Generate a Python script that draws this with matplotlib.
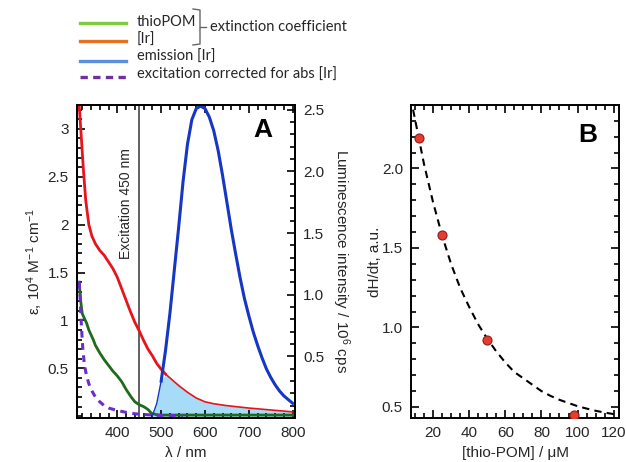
import numpy as np
import matplotlib.pyplot as plt
from matplotlib.lines import Line2D
from matplotlib.ticker import MultipleLocator

plt.rcParams['font.family'] = ['Liberation Sans', 'DejaVu Sans']
plt.rcParams['mathtext.fontset'] = 'custom'
plt.rcParams['mathtext.rm'] = 'Liberation Sans'
plt.rcParams['mathtext.it'] = 'Liberation Sans:italic'

# Panel A: extinction coefficients (left axis, 10^4 M^-1 cm^-1)
ir_wl = [313, 318, 323, 328, 335, 342, 350, 360, 370, 380, 390, 400, 410, 420,
         430, 440, 450, 460, 470, 480, 490, 500, 510, 520, 540, 560, 580, 600,
         620, 650, 700, 750, 800]
ir_eps = [3.25, 2.90, 2.55, 2.25, 2.00, 1.88, 1.80, 1.73, 1.68, 1.61, 1.54, 1.45,
          1.33, 1.21, 1.09, 0.98, 0.89, 0.79, 0.70, 0.63, 0.55, 0.49, 0.44, 0.40,
          0.32, 0.25, 0.19, 0.15, 0.13, 0.11, 0.085, 0.065, 0.045]

pom_wl = [313, 316, 320, 325, 330, 335, 340, 345, 350, 360, 370, 380, 390, 400,
          410, 420, 430, 440, 450, 460, 470, 478, 490, 500, 600, 800]
pom_eps = [1.40, 1.22, 1.07, 1.02, 0.97, 0.90, 0.85, 0.80, 0.74, 0.66, 0.59, 0.53,
           0.47, 0.42, 0.36, 0.28, 0.21, 0.15, 0.12, 0.10, 0.07, 0.03, 0.015, 0.012,
           0.012, 0.012]

exc_wl = [313, 315, 318, 321, 325, 330, 335, 340, 350, 360, 370, 380, 400, 420,
          440, 460, 480, 500, 550]
exc_val = [1.40, 1.25, 0.95, 0.72, 0.53, 0.42, 0.34, 0.28, 0.20, 0.15, 0.11, 0.085,
           0.06, 0.04, 0.025, 0.018, 0.012, 0.008, 0.005]

# emission (right axis, 10^6 cps)
em_wl = [480, 490, 500, 510, 520, 530, 540, 550, 560, 570, 580, 590, 600, 610,
         620, 630, 640, 650, 660, 670, 680, 690, 700, 710, 720, 730, 740, 750,
         760, 770, 780, 790, 800]
em_int = [0.02, 0.12, 0.30, 0.55, 0.85, 1.20, 1.55, 1.92, 2.22, 2.42, 2.51, 2.53,
          2.51, 2.44, 2.33, 2.17, 1.97, 1.75, 1.53, 1.33, 1.14, 0.97, 0.83, 0.70,
          0.59, 0.49, 0.40, 0.33, 0.27, 0.22, 0.18, 0.15, 0.12]

# Panel B: rate vs thio-POM concentration
conc = [12, 25, 50, 98]
rate = [2.19, 1.58, 0.92, 0.45]
fit_conc = [9, 15, 20, 25, 30, 35, 40, 45, 50, 55, 60, 65, 70, 75, 80, 85, 90,
            95, 100, 105, 110, 115, 120]
fit_rate = [2.37, 2.03, 1.79, 1.58, 1.40, 1.25, 1.13, 1.02, 0.93, 0.85, 0.78,
            0.72, 0.68, 0.64, 0.60, 0.57, 0.545, 0.525, 0.505, 0.49, 0.476, 0.465,
            0.455]

TXT = '#262626'
FS = 11

fig = plt.figure(figsize=(6.26, 4.62), dpi=100)
axA = fig.add_axes([0.123, 0.095, 0.348, 0.678])
axB = fig.add_axes([0.657, 0.095, 0.332, 0.678])
axR = axA.twinx()

l0, l1 = -0.02, 3.25
r0, r1 = 0.0, 2.54
axA.set_xlim(308, 805)
axA.set_ylim(l0, l1)
axR.set_ylim(r0, r1)

ir_wl_a = np.array(ir_wl)
ir_eps_a = np.array(ir_eps)
em_wl_a = np.array(em_wl)
em_int_a = np.array(em_int)

# shaded overlap region (emission expressed on left-axis scale)
em_left = l0 + (em_int_a - r0) * (l1 - l0) / (r1 - r0)
red_on_em = np.interp(em_wl_a, ir_wl_a, ir_eps_a)
axA.fill_between(em_wl_a, l0, np.minimum(em_left, red_on_em),
                 color='#a6dcf7', lw=0, zorder=1)

axA.axvline(450, color='#555555', lw=1.3, zorder=2)
axA.text(419, 2.22, 'Excitation 450 nm', rotation=90, ha='center', va='center',
         fontsize=10, color=TXT, family=['Liberation Sans Narrow', 'Liberation Sans'])

thick = ir_wl_a <= 510
thin = ir_wl_a >= 510
axA.plot(ir_wl_a[thick], ir_eps_a[thick], color='#e8141c', lw=2.0, zorder=3)
axA.plot(ir_wl_a[thin], ir_eps_a[thin], color='#e8141c', lw=1.2, zorder=3)
axA.plot(pom_wl, pom_eps, color='#1e6b1e', lw=2.0, zorder=3)
axA.plot(exc_wl, exc_val, color='#6a2ecf', lw=2.2, ls=(0, (2.2, 1.8)), zorder=3)

low = em_wl_a <= 500
high = em_wl_a >= 500
axR.plot(em_wl_a[low], em_int_a[low], color='#1537c4', lw=1.0)
axR.plot(em_wl_a[high], em_int_a[high], color='#1537c4', lw=2.2)

axA.set_xticks([400, 500, 600, 700, 800])
axA.xaxis.set_minor_locator(MultipleLocator(20))
axA.set_yticks([0.5, 1, 1.5, 2, 2.5, 3])
axA.set_yticklabels(['0.5', '1', '1.5', '2', '2.5', '3'])
axA.yaxis.set_minor_locator(MultipleLocator(0.1))
axA.tick_params(which='both', direction='in', top=True, right=False,
                labelsize=FS, labelcolor=TXT, width=1.2, pad=6)
axA.tick_params(which='major', length=6)
axA.tick_params(which='minor', length=3.5)

axR.set_yticks([0.5, 1.0, 1.5, 2.0, 2.5])
axR.yaxis.set_minor_locator(MultipleLocator(0.1))
axR.tick_params(which='both', direction='in', labelsize=FS, labelcolor=TXT,
                width=1.2, pad=6)
axR.tick_params(which='major', length=6)
axR.tick_params(which='minor', length=3.5)

axA.set_xlabel('λ / nm', fontsize=FS, color=TXT, labelpad=4)
axA.set_ylabel('ε, 10$^{4}$ M$^{-1}$ cm$^{-1}$', fontsize=FS, color=TXT, labelpad=2)
axR.set_ylabel('Luminescence intensity / 10$^{6}$ cps', fontsize=FS, color=TXT,
               rotation=270, labelpad=20)
axA.text(0.853, 0.92, 'A', transform=axA.transAxes, fontsize=19,
         fontweight='bold', ha='center', va='center')

# Panel B
axB.plot(fit_conc, fit_rate, color='black', lw=1.5, ls=(0, (3.5, 2.5)))
axB.plot(conc, rate, 'o', ms=6.5, mfc='#e83a30', mec='#8a2018', mew=0.8,
         zorder=3)
axB.set_xlim(8, 123)
axB.set_ylim(0.43, 2.40)
axB.set_xticks([20, 40, 60, 80, 100, 120])
axB.xaxis.set_minor_locator(MultipleLocator(5))
axB.set_yticks([0.5, 1.0, 1.5, 2.0])
axB.yaxis.set_minor_locator(MultipleLocator(0.1))
axB.tick_params(which='both', direction='in', top=True, right=True,
                labelsize=FS, labelcolor=TXT, width=1.2, pad=6)
axB.tick_params(which='major', length=6)
axB.tick_params(which='minor', length=3.5)
axB.set_xlabel('[thio-POM] / μM', fontsize=FS, color=TXT, labelpad=4)
axB.set_ylabel('dH/dt, a.u.', fontsize=FS, color=TXT, labelpad=0)
axB.text(0.851, 0.904, 'B', transform=axB.transAxes, fontsize=19,
         fontweight='bold', ha='center', va='center')

for ax in (axA, axR, axB):
    for s in ax.spines.values():
        s.set_linewidth(1.4)

# legend drawn in figure pixels
W, H = 626, 462


def fx(px):
    return px / W


def fy(py):
    return 1 - py / H


leg_items = [
    ('#80cc40', '-', 23, 'thioPOM', 22),
    ('#e8701e', '-', 41, '[Ir]', 40),
    ('#5b8fdc', '-', 61, 'emission [Ir]', 57),
    ('#7030a0', (0, (2.2, 1.6)), 77, 'excitation corrected for abs [Ir]', 75),
]
for col, ls, ly, label, ty in leg_items:
    fig.add_artist(Line2D([fx(80), fx(126)], [fy(ly), fy(ly)], color=col,
                          lw=2.4, ls=ls))
    fig.text(fx(137), fy(ty), label, fontsize=10.5, color=TXT, va='center',
             family=['Lato', 'DejaVu Sans'])

# bracket grouping the two extinction entries
fig.add_artist(Line2D([fx(193), fx(200), fx(200), fx(193)],
                      [fy(9), fy(10), fy(44), fy(45)], color='#666666', lw=1))
fig.add_artist(Line2D([fx(200), fx(206)], [fy(27), fy(27)], color='#666666',
                      lw=1))
fig.text(fx(210), fy(27), 'extinction coefficient', fontsize=10.5, color=TXT,
         va='center', family=['Lato', 'DejaVu Sans'])

fig.savefig('out.png', dpi=100)
